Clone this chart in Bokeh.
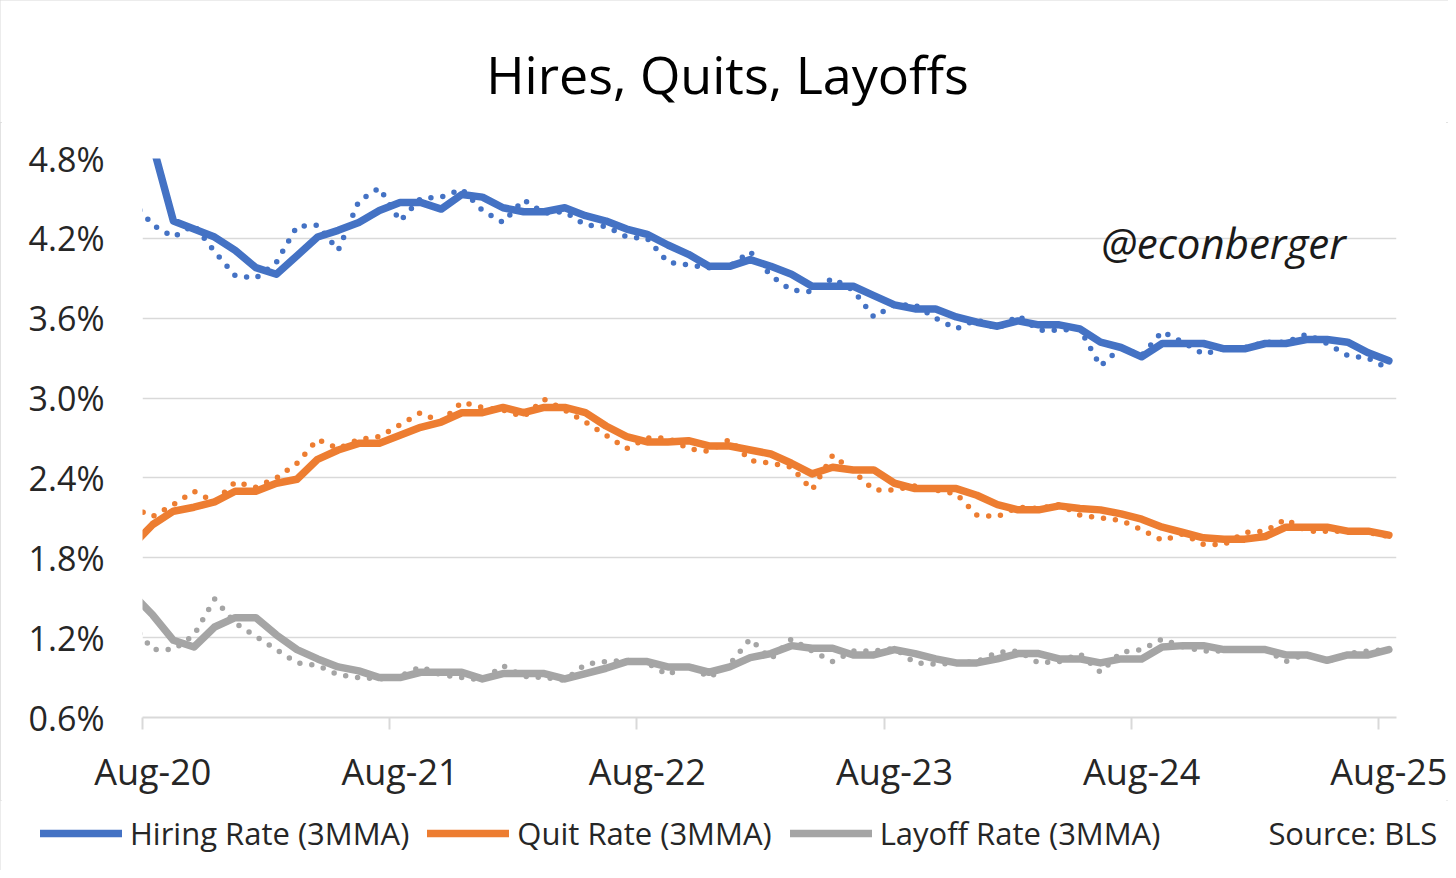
import pandas as pd
from bokeh.plotting import figure
from bokeh.layouts import column
from bokeh.models import (Range1d, FixedTicker, Label, Legend, LegendItem,
                          PrintfTickFormatter)
from bokeh.embed import file_html
from bokeh.resources import INLINE

# ---------------- data (Jul-20 .. Aug-25, monthly) ----------------
months = pd.date_range("2020-07-01", "2025-08-01", freq="MS").strftime("%b-%y").tolist()
x_idx = list(range(-1, len(months) - 1))   # Aug-20 = 0

hires_3mma = [5.30, 4.90, 4.33, 4.27, 4.21, 4.11, 3.98, 3.93, 4.07, 4.21, 4.26, 4.32,
              4.41, 4.47, 4.47, 4.42, 4.53, 4.51, 4.43, 4.40, 4.40, 4.43, 4.37, 4.33,
              4.27, 4.23, 4.15, 4.08, 3.99, 3.99, 4.04, 3.99, 3.93, 3.84, 3.84, 3.84,
              3.77, 3.70, 3.67, 3.67, 3.61, 3.57, 3.54, 3.58, 3.55, 3.55, 3.52, 3.42,
              3.38, 3.31, 3.41, 3.41, 3.41, 3.37, 3.37, 3.41, 3.41, 3.44, 3.44, 3.42,
              3.34, 3.28]
hires_monthly = [4.48, 4.30, 4.21, 4.30, 4.10, 3.92, 3.90, 4.02, 4.29, 4.30, 4.11, 4.48,
                 4.58, 4.33, 4.50, 4.51, 4.57, 4.41, 4.32, 4.49, 4.39, 4.40, 4.30, 4.29,
                 4.21, 4.20, 4.02, 4.00, 3.98, 3.99, 4.10, 3.92, 3.81, 3.80, 3.90, 3.81,
                 3.61, 3.70, 3.70, 3.60, 3.52, 3.59, 3.52, 3.62, 3.51, 3.51, 3.52, 3.24,
                 3.38, 3.32, 3.50, 3.42, 3.33, 3.37, 3.38, 3.42, 3.42, 3.48, 3.41, 3.32,
                 3.30, 3.22]
quits_3mma = [1.89, 2.05, 2.15, 2.18, 2.22, 2.30, 2.30, 2.36, 2.39, 2.54, 2.61, 2.66,
              2.66, 2.72, 2.78, 2.82, 2.89, 2.89, 2.93, 2.89, 2.93, 2.93, 2.89, 2.79,
              2.71, 2.67, 2.67, 2.68, 2.64, 2.64, 2.61, 2.58, 2.51, 2.43, 2.48, 2.46,
              2.46, 2.36, 2.32, 2.32, 2.32, 2.27, 2.20, 2.16, 2.16, 2.19, 2.17, 2.16,
              2.13, 2.09, 2.03, 1.99, 1.95, 1.94, 1.94, 1.96, 2.03, 2.03, 2.03, 2.00,
              2.00, 1.97]
quits_monthly = [2.18, 2.11, 2.20, 2.30, 2.22, 2.37, 2.33, 2.40, 2.51, 2.69, 2.62, 2.69,
                 2.71, 2.80, 2.89, 2.82, 2.97, 2.93, 2.91, 2.86, 2.99, 2.91, 2.82, 2.72,
                 2.62, 2.70, 2.70, 2.62, 2.60, 2.69, 2.53, 2.51, 2.48, 2.31, 2.57, 2.45,
                 2.31, 2.31, 2.34, 2.31, 2.28, 2.12, 2.11, 2.18, 2.17, 2.20, 2.12, 2.10,
                 2.08, 2.01, 1.93, 1.98, 1.90, 1.90, 1.99, 2.00, 2.09, 2.00, 2.00, 2.00,
                 1.99, 1.96]
layoffs_3mma = [1.53, 1.37, 1.18, 1.13, 1.28, 1.35, 1.35, 1.22, 1.11, 1.04, 0.98, 0.95,
                0.90, 0.90, 0.94, 0.94, 0.94, 0.89, 0.93, 0.93, 0.93, 0.89, 0.93, 0.97,
                1.02, 1.02, 0.98, 0.98, 0.94, 0.98, 1.05, 1.08, 1.14, 1.12, 1.12, 1.07,
                1.07, 1.11, 1.08, 1.04, 1.01, 1.01, 1.04, 1.08, 1.08, 1.04, 1.04, 1.01,
                1.04, 1.04, 1.13, 1.14, 1.14, 1.11, 1.11, 1.11, 1.07, 1.07, 1.03, 1.07,
                1.07, 1.11]
layoffs_monthly = [1.30, 1.11, 1.11, 1.22, 1.49, 1.31, 1.21, 1.11, 1.01, 0.99, 0.92, 0.90,
                   0.89, 0.91, 0.98, 0.92, 0.90, 0.88, 0.99, 0.91, 0.90, 0.88, 1.00, 1.02,
                   1.03, 1.01, 0.92, 1.00, 0.90, 1.00, 1.19, 1.04, 1.19, 1.10, 1.02, 1.10,
                   1.10, 1.12, 1.01, 1.00, 1.01, 1.02, 1.09, 1.10, 1.01, 1.02, 1.08, 0.94,
                   1.09, 1.11, 1.19, 1.13, 1.10, 1.10, 1.12, 1.11, 1.02, 1.08, 1.02, 1.08,
                   1.10, 1.11]

y_ticks = [0.6, 1.2, 1.8, 2.4, 3.0, 3.6, 4.2, 4.8]
series_labels = ["Hiring Rate (3MMA)", "Quit Rate (3MMA)", "Layoff Rate (3MMA)"]
title_text = "Hires, Quits, Layoffs"
handle_text = "@econberger"
source_text = "Source: BLS"

# ---------------- styling ----------------
FONT = "Open Sans"
BLUE, ORANGE, GRAY = "#4472C4", "#ED7D31", "#A5A5A5"
GRID = "#d9d9d9"
TXT = "#262626"

W = 1448
H_TITLE, H_MAIN, H_LEG = 122, 678, 70
L, R = 142, 52
T = 158 - H_TITLE
B = H_TITLE + H_MAIN - 717


def strip(height):
    f = figure(width=W, height=height, output_backend="svg", toolbar_location=None,
               x_range=Range1d(0, 1), y_range=Range1d(0, 1),
               x_axis_location=None, y_axis_location=None, min_border=0)
    f.frame_align = False
    f.outline_line_color = None
    f.grid.grid_line_color = None
    f.background_fill_color = "white"
    f.border_fill_color = "white"
    return f


# ---------------- title strip ----------------
t = strip(H_TITLE)
t.add_layout(Label(x=727, y=H_TITLE - 73, x_units="screen", y_units="screen",
                   text=title_text, text_align="center", text_baseline="middle",
                   text_font=FONT, text_font_size="52px", text_color="#000000"))

# ---------------- main chart ----------------
p = figure(width=W, height=H_MAIN, output_backend="svg", toolbar_location=None,
           x_range=Range1d(-0.5, 60.37), y_range=Range1d(y_ticks[0], y_ticks[-1]),
           min_border_left=L, min_border_right=R, min_border_top=T, min_border_bottom=B)
p.frame_align = False
p.outline_line_color = None
p.background_fill_color = "white"
p.border_fill_color = "white"

aug_pos = [i for i, m in zip(x_idx, months) if m.startswith("Aug")]
p.xaxis.ticker = FixedTicker(ticks=aug_pos, minor_ticks=[v - 0.5 for v in aug_pos])
p.xaxis.major_label_overrides = {i: m for i, m in zip(x_idx, months) if i in aug_pos}
p.xaxis.axis_line_color = GRID
p.xaxis.axis_line_width = 2
p.xaxis.major_tick_line_color = None
p.xaxis.major_tick_out = 0
p.xaxis.major_tick_in = 0
p.xaxis.minor_tick_line_color = GRID
p.xaxis.minor_tick_line_width = 2
p.xaxis.minor_tick_out = 12
p.xaxis.minor_tick_in = 0
p.xaxis.major_label_standoff = 17
p.xaxis.major_label_text_font = FONT
p.xaxis.major_label_text_font_size = "36px"
p.xaxis.major_label_text_color = TXT

p.yaxis.ticker = FixedTicker(ticks=y_ticks)
p.yaxis.formatter = PrintfTickFormatter(format="%.1f%%")
p.yaxis.axis_line_color = None
p.yaxis.major_tick_line_color = None
p.yaxis.minor_tick_line_color = None
p.yaxis.major_tick_out = 0
p.yaxis.major_label_standoff = 38
p.yaxis.major_label_text_font = FONT
p.yaxis.major_label_text_font_size = "34px"
p.yaxis.major_label_text_color = TXT

p.xgrid.grid_line_color = None
p.ygrid.ticker = FixedTicker(ticks=y_ticks)
p.ygrid.grid_line_color = GRID
p.ygrid.grid_line_width = 1.5

for monthly, mma, col in [(layoffs_monthly, layoffs_3mma, GRAY),
                          (quits_monthly, quits_3mma, ORANGE),
                          (hires_monthly, hires_3mma, BLUE)]:
    p.line(x_idx, monthly, line_color=col, line_width=5.5, line_dash="0 12",
           line_cap="round")
    p.line(x_idx, mma, line_color=col, line_width=7.5, line_join="round",
           line_cap="round")

p.add_layout(Label(x=1081, y=475, x_units="screen", y_units="screen",
                   text=handle_text, text_align="center", text_baseline="middle",
                   text_font=FONT, text_font_style="italic",
                   text_font_size="42px", text_color="#1a1a1a"))

# ---------------- legend strip ----------------
q = strip(H_LEG)
off = [5, 6]   # swatch-only renderers, outside the strip's visible range
items = []
for lab, col in zip(series_labels, [BLUE, ORANGE, GRAY]):
    rr = q.line(off, off, line_color=col, line_width=7.5, line_cap="round")
    items.append(LegendItem(label=lab, renderers=[rr]))
r_src = q.line(off, off, line_alpha=0)
items.append(LegendItem(label=source_text, renderers=[r_src]))
legend = Legend(items=items, location=(40, 16), orientation="horizontal",
                glyph_width=82, glyph_height=30, label_standoff=8, label_height=30,
                label_text_font=FONT, label_text_font_size="31px",
                label_text_color=TXT, border_line_color=None,
                background_fill_alpha=0, padding=0, margin=0, spacing=18)
q.add_layout(legend, "center")

layout = column(t, p, q, spacing=0,
                styles={"outline": "2px solid #d9d9d9", "outline-offset": "-2px"})

open("out.html", "w").write(file_html(layout, INLINE))
